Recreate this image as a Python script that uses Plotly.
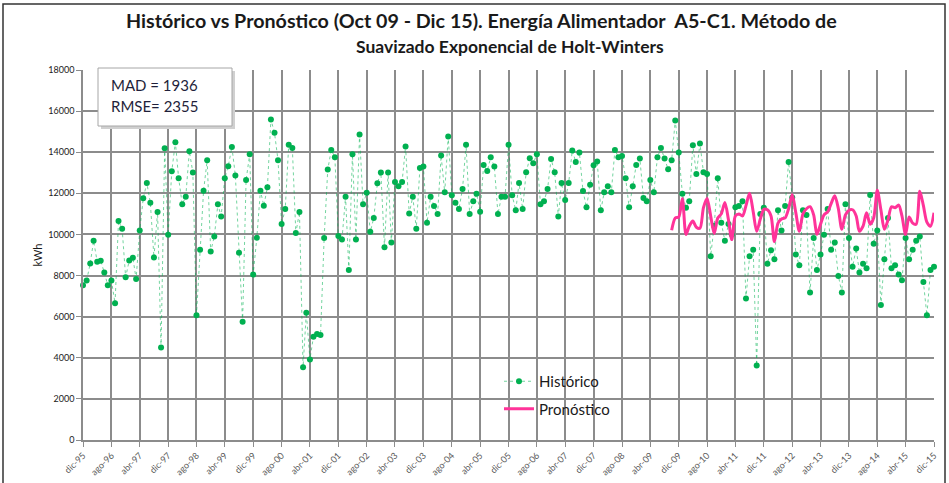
import pandas as pd
import plotly.graph_objects as go

# ---------------- data ----------------
start_month = "1995-12-01"
historico = [
    7528, 7756, 8585, 9691, 8667, 8715, 8146, 7528, 7756, 6650,
    10650, 10276, 7919, 8732, 8862, 7837, 10195, 11756, 12504, 11545,
    8878, 11090, 4504, 14195, 9984, 13073, 14488, 12732, 11463, 11837,
    14049, 13008, 6065, 9252,
    12130, 13610, 9171, 9902, 11463, 10878, 12732, 13317, 14260, 12862,
    9106, 5756, 12650, 13902, 8049, 9837, 12130, 11398, 12293, 15593,
    14943, 13610, 10504, 11236, 14358, 14211, 10065, 11090, 3545, 6195,
    3919, 5024, 5154, 5105,
    9821, 13154, 14114, 13756, 9919, 9756, 11837, 8276, 13902, 9756,
    14862, 11463, 12033, 10130, 10797, 12488, 13008, 9382, 13008, 9610,
    12553, 12341, 12553, 14276, 11024, 11837, 10276, 13236, 13301, 10569,
    11837, 11382, 10992, 13837, 12049,
    14764, 11902, 11545, 11236, 12211, 14358, 10992, 11610, 11984, 11106,
    13382, 13089, 13756, 13301, 10992, 11837, 11837, 14358, 11902, 11171,
    12504, 11236, 13024, 13707, 13463, 13902, 11463, 11610, 12211, 13675,
    13024, 10878, 12504,
    11675, 12504, 14081, 13528, 13984, 12114, 11317, 12423, 13366, 13545,
    11171, 12049, 12341, 12049, 14114, 13756, 13821, 12732, 11317, 12341,
    13382, 13691, 11772, 11610, 12650, 12049, 13756, 14211, 13691, 13171,
    13610, 15545, 13984, 11984,
    11301, 11610, 14341, 12943, 14423, 13024, 12943, 8943, 10423, 12732,
    10569, 9691, 10504, 10000, 11317, 11382, 11610, 6879, 8943, 9252,
    3626, 10992, 11301, 8569, 9236, 8797, 11171, 10195, 11382, 13528,
    11800, 9024, 8504, 11171,
    10943, 7171, 9821, 8276, 9024, 9984, 11236, 9252, 9610, 7984,
    7171, 11463, 9821, 8423, 9317, 8146, 8569, 8358, 11919, 9545,
    10195, 6569, 8797, 10797, 8358, 8504, 8049, 7772, 9821, 8797,
    9252, 9691, 9902, 7691, 6065, 8276, 8423,
]
pronostico_inicio = 166  # oct-09
pronostico = [
    10200, 10800, 10850, 11750, 10000, 10400, 10650, 10350, 10300, 11300,
    11750, 10900, 10050, 10800, 11000, 11550, 10700, 9750, 10900, 11000,
    10900, 11400, 12000, 11100, 10150, 10750, 11220, 11200, 10900, 9650,
    10550, 10750, 10800, 11250, 11930, 11050, 10150, 11000, 11250, 11350,
    10950, 10000, 10500, 10950, 11100, 11500, 11880, 11250, 10250, 10950,
    11180, 11200, 10900, 10150, 10400, 11050, 10500, 10800, 12150, 11200,
    10250, 10700, 11350, 11300, 11430, 10900, 10000, 10850, 10550, 10500,
    12100, 11400, 10600, 10400, 11050,
]
tick_labels = [
    "dic-95", "ago-96", "abr-97", "dic-97", "ago-98", "abr-99", "dic-99",
    "ago-00", "abr-01", "dic-01", "ago-02", "abr-03", "dic-03", "ago-04",
    "abr-05", "dic-05", "ago-06", "abr-07", "dic-07", "ago-08", "abr-09",
    "dic-09", "ago-10", "abr-11", "dic-11", "ago-12", "abr-13", "dic-13",
    "ago-14", "abr-15", "dic-15",
]
y_ticks = [0, 2000, 4000, 6000, 8000, 10000, 12000, 14000, 16000, 18000]
y_tick_labels = [str(v) for v in y_ticks]
mad_text = "MAD = 1936"
rmse_text = "RMSE= 2355"

# ---------------- figure ----------------
fechas = pd.date_range(start=start_month, periods=len(historico), freq="MS")
fechas_pron = fechas[pronostico_inicio:pronostico_inicio + len(pronostico)]

W, H = 949, 483
L, R, T, B = 83, 15, 70, 43
pw, ph = W - L - R, H - T - B


def px(x):
    return (x - L) / pw


def py(y):
    return (H - B - y) / ph


fig = go.Figure()
fig.add_trace(go.Scatter(
    x=fechas, y=historico, mode="lines+markers", name="Histórico",
    line=dict(color="rgba(0,176,80,0.55)", width=1, dash="dot"),
    marker=dict(color="#00B050", size=6),
    cliponaxis=False, legendgroup="a",
))
fig.add_trace(go.Scatter(
    x=fechas_pron, y=pronostico, mode="lines", name="Pronóstico",
    line=dict(color="#FF3399", width=3, shape="spline", smoothing=0.8),
    cliponaxis=False, legendgroup="b",
))

grid = "#8c8c8c"
fig.update_layout(
    width=W, height=H,
    margin=dict(l=L, r=R, t=T, b=B, autoexpand=False),
    paper_bgcolor="white", plot_bgcolor="white",
    font=dict(family="Lato, Arial, sans-serif", color="#1a1a1a"),
    showlegend=True,
    legend=dict(
        x=px(499), y=py(365), xanchor="left", yanchor="top",
        bgcolor="rgba(0,0,0,0)", borderwidth=0,
        font=dict(size=15, color="#1a1a1a"),
        tracegroupgap=5, traceorder="grouped",
    ),
    xaxis=dict(
        type="date",
        range=[fechas[0], fechas[-1]],
        tickmode="array", tickvals=list(fechas[::8]), ticktext=tick_labels,
        tickangle=-45, tickfont=dict(size=9, color="#595959"),
        showgrid=True, gridcolor=grid, gridwidth=1.5,
        ticks="outside", ticklen=5, tickcolor=grid,
        showline=True, linecolor=grid, linewidth=1.5,
        zeroline=False,
    ),
    yaxis=dict(
        range=[0, 18000], tickmode="array", tickvals=y_ticks, ticktext=y_tick_labels,
        tickfont=dict(size=9, color="#1a1a1a"),
        showgrid=True, gridcolor=grid, gridwidth=1.5,
        ticks="outside", ticklen=5, tickcolor=grid,
        showline=True, linecolor=grid, linewidth=1.5,
        zeroline=False,
        title=dict(text="kWh", font=dict(size=11, color="#1a1a1a"), standoff=3),
    ),
)

# outer chart frame
fig.add_shape(type="rect", xref="paper", yref="paper",
              x0=px(3), x1=px(945), y0=py(492), y1=py(4),
              line=dict(color="#333333", width=1.5), fillcolor="rgba(0,0,0,0)",
              layer="above")

# MAD / RMSE box (shadow + box)
fig.add_shape(type="rect", xref="paper", yref="paper",
              x0=px(101), x1=px(235), y0=py(129), y1=py(71),
              line=dict(width=0), fillcolor="#d0d0d0", layer="above")
fig.add_shape(type="rect", xref="paper", yref="paper",
              x0=px(98), x1=px(232), y0=py(126), y1=py(68),
              line=dict(color="#a6a6a6", width=1), fillcolor="white", layer="above")
fig.add_annotation(x=px(109), y=py(85), xref="paper", yref="paper",
                   text=mad_text, showarrow=False, xanchor="left", yanchor="middle",
                   font=dict(size=15, color="#1f1f3a", family="Lato, Arial, sans-serif"))
fig.add_annotation(x=px(109), y=py(106), xref="paper", yref="paper",
                   text=rmse_text, showarrow=False, xanchor="left", yanchor="middle",
                   font=dict(size=15, color="#1f1f3a", family="Lato, Arial, sans-serif"))

# title (two lines)
fig.add_annotation(x=px(481), y=py(20), xref="paper", yref="paper",
                   text="<b>Histórico vs Pronóstico (Oct 09 - Dic 15). Energía Alimentador  A5-C1. Método de</b>",
                   showarrow=False, xanchor="center", yanchor="middle",
                   font=dict(size=19.7, color="#1a1a1a"))
fig.add_annotation(x=px(510), y=py(47), xref="paper", yref="paper",
                   text="<b>Suavizado Exponencial de Holt-Winters</b>",
                   showarrow=False, xanchor="center", yanchor="middle",
                   font=dict(size=17.5, color="#1a1a1a"))

fig.write_html("out.html", config={"displayModeBar": False},
               post_script="document.body.style.margin='0';document.body.style.overflow='hidden';")
